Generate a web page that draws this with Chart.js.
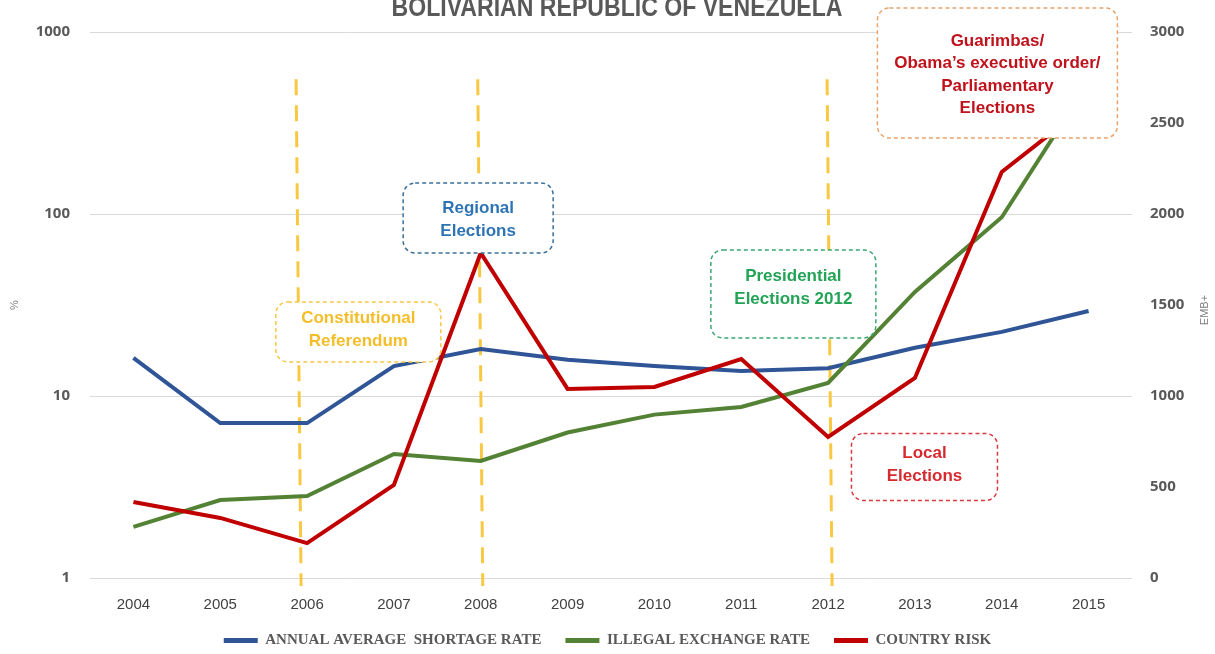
<!DOCTYPE html>
<html>
<head>
<meta charset="utf-8">
<title>Bolivarian Republic of Venezuela</title>
<script src="https://cdn.jsdelivr.net/npm/chart.js@4.4.1/dist/chart.umd.min.js"></script>
<style>
  html, body { margin: 0; padding: 0; background: #fff; }
  #wrap { width: 1215px; height: 654px; position: relative; }
</style>
</head>
<body>
<div id="wrap"><canvas id="chart"></canvas></div>
<script>
const years = ['2004', '2005', '2006', '2007', '2008', '2009', '2010', '2011', '2012', '2013', '2014', '2015'];

// left axis (%, log)
const shortageRate = [16.2, 7.1, 7.1, 14.6, 18.1, 15.8, 14.6, 13.7, 14.2, 18.4, 22.5, 29.3];
const illegalRate = [1.91, 2.68, 2.82, 4.8, 4.4, 6.3, 7.9, 8.7, 11.8, 37.3, 96, 530];
// right axis (EMB+)
const countryRisk = [418, 330, 192, 511, 1786, 1039, 1050, 1203, 775, 1099, 2231, 2605];

const leftTicks = [1, 10, 100, 1000];

// dashed event lines (shift = px nudge, the source lines are a bit off)
const markers = [
  { year: '2006', shift: -8 },
  { year: '2008', shift: 0 },
  { year: '2012', shift: 2 }
];

// event notes, placed by year index and EMB+ level
const notes = [
  { lines: ['Constitutional', 'Referendum'], at: 2.59, level: 1352, w: 165, h: 60, dy: -2, color: '#F4BE2A', border: '#F6C744' },
  { lines: ['Regional', 'Elections'], at: 3.97, level: 1978, w: 150, h: 70, dy: 2, color: '#2E74B5', border: '#3A6F9A' },
  { lines: ['Presidential', 'Elections 2012'], at: 7.6, level: 1561, w: 165, h: 88, dy: -6, color: '#22A356', border: '#3AA870' },
  { lines: ['Local', 'Elections'], at: 9.11, level: 610, w: 146, h: 67, dy: -2, color: '#D62A2F', border: '#D93A3F' },
  { lines: ['Guarimbas/', 'Obama\u2019s executive order/', 'Parliamentary', 'Elections'], at: 9.95, level: 2775, w: 240, h: 130, dy: 2, color: '#C0121B', border: '#E8A46C' }
];

const decorations = {
  id: 'decorations',
  beforeDatasetsDraw(chart) {
    const { ctx, chartArea } = chart;
    const x = chart.scales.x, y1 = chart.scales.y1;
    ctx.save();
    ctx.strokeStyle = '#F9C843';
    ctx.lineWidth = 3;
    ctx.setLineDash([16, 10]);
    markers.forEach(m => {
      const px = x.getPixelForValue(years.indexOf(m.year)) + m.shift;
      ctx.beginPath();
      ctx.moveTo(px - 3, y1.getPixelForValue(2740));
      ctx.lineTo(px + 2, chartArea.bottom + 8);
      ctx.stroke();
    });
    ctx.restore();
  },
  afterDatasetsDraw(chart) {
    const { ctx } = chart;
    const x = chart.scales.x, y1 = chart.scales.y1;
    ctx.save();
    notes.forEach(n => {
      const cx = x.getPixelForValue(n.at);
      const cy = y1.getPixelForValue(n.level);
      ctx.beginPath();
      ctx.roundRect(cx - n.w / 2, cy - n.h / 2, n.w, n.h, 12);
      ctx.fillStyle = '#fff';
      ctx.fill();
      ctx.setLineDash([4, 3]);
      ctx.lineWidth = 1.5;
      ctx.strokeStyle = n.border;
      ctx.stroke();

      ctx.fillStyle = n.color;
      ctx.font = 'bold 17px "Liberation Sans", Arial, sans-serif';
      ctx.textAlign = 'center';
      ctx.textBaseline = 'middle';
      const lh = 22.5;
      const top = cy + n.dy - (n.lines.length - 1) * lh / 2;
      n.lines.forEach((t, i) => ctx.fillText(t, cx, top + i * lh));
    });
    ctx.restore();
  },
  afterDraw(chart) {
    const { ctx } = chart;
    ctx.save();
    // title, cut off at the top edge as in the source
    const title = 'BOLIVARIAN REPUBLIC OF VENEZUELA';
    ctx.font = 'bold 28px "Liberation Sans", Arial, sans-serif';
    ctx.fillStyle = '#595959';
    ctx.textBaseline = 'alphabetic';
    ctx.textAlign = 'center';
    const tw = ctx.measureText(title).width;
    ctx.translate(617, 16);
    ctx.scale(451 / tw, 1);
    ctx.fillText(title, 0, 0);
    ctx.restore();

    ctx.save();
    ctx.translate(1205, 310);
    ctx.rotate(-Math.PI / 2);
    ctx.font = '11px "Liberation Sans", Arial, sans-serif';
    ctx.fillStyle = '#7f7f7f';
    ctx.textAlign = 'center';
    ctx.textBaseline = 'middle';
    ctx.fillText('EMB+', 0, 0);
    ctx.restore();
  }
};

new Chart(document.getElementById('chart'), {
  type: 'line',
  data: {
    labels: years,
    datasets: [{
      label: 'ANNUAL AVERAGE  SHORTAGE RATE',
      data: shortageRate,
      yAxisID: 'y',
      borderColor: '#2F5597',
      backgroundColor: '#2F5597',
      borderWidth: 4,
      pointRadius: 0,
      order: 2
    }, {
      label: 'ILLEGAL EXCHANGE RATE',
      data: illegalRate,
      yAxisID: 'y',
      borderColor: '#548235',
      backgroundColor: '#548235',
      borderWidth: 4,
      pointRadius: 0,
      order: 1
    }, {
      label: 'COUNTRY RISK',
      data: countryRisk,
      yAxisID: 'y1',
      borderColor: '#C00000',
      backgroundColor: '#C00000',
      borderWidth: 4,
      pointRadius: 0,
      order: 0
    }]
  },
  options: {
    responsive: true,
    maintainAspectRatio: false,
    animation: false,
    devicePixelRatio: 1,
    layout: { padding: { top: 32, left: 0, right: 0, bottom: 0 } },
    plugins: {
      tooltip: { enabled: false },
      legend: {
        position: 'bottom',
        maxHeight: 45,
        labels: {
          boxWidth: 34,
          boxHeight: 5,
          padding: 24,
          color: '#595959',
          font: { family: '"Liberation Serif", "Times New Roman", serif', size: 15, weight: 'bold' },
          sort: (a, b) => a.datasetIndex - b.datasetIndex,
          generateLabels(chart) {
            return Chart.defaults.plugins.legend.labels.generateLabels(chart)
              .map(item => ({ ...item, lineWidth: 0 }));
          }
        }
      }
    },
    scales: {
      x: {
        offset: true,
        grid: { display: false },
        border: { display: false },
        ticks: {
          color: '#404040',
          padding: 10,
          font: { family: '"Liberation Sans", Arial, sans-serif', size: 15 }
        },
        afterFit(s) { s.height = 31; }
      },
      y: {
        type: 'logarithmic',
        position: 'left',
        min: 1,
        max: 1000,
        border: { display: false },
        grid: { color: '#d9d9d9', drawTicks: false },
        afterBuildTicks(s) { s.ticks = leftTicks.map(v => ({ value: v })); },
        ticks: {
          color: '#595959',
          padding: 20,
          font: { family: '"Open Sans", sans-serif', size: 15, weight: 'bold' },
          callback: v => String(v)
        },
        title: {
          display: true,
          text: '%',
          color: '#7f7f7f',
          padding: 8,
          font: { family: '"Liberation Sans", Arial, sans-serif', size: 11 }
        },
        afterFit(s) { s.width = 90; }
      },
      y1: {
        type: 'linear',
        position: 'right',
        min: 0,
        max: 3000,
        border: { display: false },
        grid: { display: false, drawTicks: false },
        ticks: {
          stepSize: 500,
          color: '#595959',
          padding: 18,
          font: { family: '"Open Sans", sans-serif', size: 15, weight: 'bold' },
          callback: v => String(v)
        },
        afterFit(s) { s.width = 83; }
      }
    }
  },
  plugins: [decorations]
});
</script>
</body>
</html>
